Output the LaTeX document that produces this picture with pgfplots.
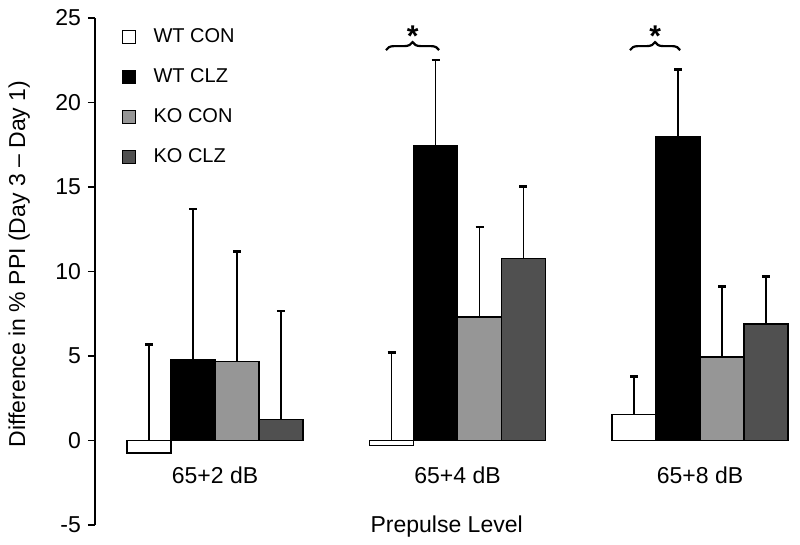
\documentclass[border=0pt]{standalone}
\usepackage{pgfplots}
\pgfplotsset{compat=1.18}
\usepackage{pgfplotstable}
\usepackage{fontspec}
\setmainfont{Liberation Sans}
\usetikzlibrary{decorations.pathreplacing}
\definecolor{kocon}{RGB}{150,150,150}
\definecolor{koclz}{RGB}{80,80,80}
\newcommand\mainsz{\fontsize{11.5}{13.8}\selectfont}

% x = group index + offset, y = mean, err = upper error
\pgfplotstableread{
x y err
-0.272 -0.75 6.42
0.728 -0.30 5.50
1.728 1.54 2.26
}\wtcon
\pgfplotstableread{
x y err
-0.0907 4.79 8.91
0.9093 17.45 5.07
1.9093 17.95 3.98
}\wtclz
\pgfplotstableread{
x y err
0.0907 4.67 6.50
1.0907 7.31 5.32
2.0907 4.95 4.17
}\kocon
\pgfplotstableread{
x y err
0.272 1.24 6.42
1.272 10.78 4.27
2.272 6.91 2.78
}\koclz

\begin{document}
\begin{tikzpicture}
\path[use as bounding box] (-47.5pt,-10pt) rectangle (352.5pt,262.5pt);
\begin{axis}[
  at={(0,0)}, anchor=south west,
  scale only axis, width=347.5pt, height=253.5pt,
  xmin=-0.495, xmax=2.371, ymin=-5, ymax=25,
  clip=false,
  axis x line=bottom, axis y line=left,
  axis line style={-, line width=0.6pt, black},
  x axis line style={draw=none},
  ytick={-5,0,5,10,15,20,25},
  xtick={0,1,2},
  xticklabels={65+2 dB,65+4 dB,65+8 dB},
  tick align=outside,
  major tick length=3.5pt,
  ytick style={line width=0.6pt, black},
  xtick style={draw=none},
  /pgf/number format/assume math mode=true,
  ticklabel style={font=\mainsz},
  xticklabel style={yshift=36.3pt},
  xlabel={Prepulse Level},
  ylabel={Difference in \% PPI (Day 3 – Day 1)},
  label style={font=\mainsz},
  xlabel style={at={(axis description cs:0.506,-0.004)}, anchor=center},
  ylabel style={at={(axis description cs:-0.109,0.515)}, anchor=center},
  legend cell align=left,
  legend style={at={(axis description cs:0.0377,0.9876)}, anchor=north west,
    draw=none, fill=none, inner sep=0pt, row sep=7.5pt, column sep=7pt,
    font=\fontsize{10}{12}\selectfont},
  legend image code/.code={\draw[#1, line width=0.5pt] (0pt,-3.25pt) rectangle (6.5pt,3.25pt);},
  error bars/error bar style={draw=black, line width=0.75pt},
  error bars/error mark options={draw=black, line width=1.4pt, mark size=2pt, rotate=0},
]
% error bars drawn first, so that bars cover their lower parts
\addplot[draw=none, mark=none, forget plot, error bars/.cd, y dir=plus, y explicit, error mark=|]
  table[x=x, y=y, y error=err] {\wtcon};
\addplot[draw=none, mark=none, forget plot, error bars/.cd, y dir=plus, y explicit, error mark=|]
  table[x=x, y=y, y error=err] {\wtclz};
\addplot[draw=none, mark=none, forget plot, error bars/.cd, y dir=plus, y explicit, error mark=|]
  table[x=x, y=y, y error=err] {\kocon};
\addplot[draw=none, mark=none, forget plot, error bars/.cd, y dir=plus, y explicit, error mark=|]
  table[x=x, y=y, y error=err] {\koclz};
% bars
\addplot[ybar, mark=none, bar width=0.1814, bar shift=0pt, fill=white, draw=black, line width=0.8pt]
  table[x=x, y=y] {\wtcon};
\addplot[ybar, mark=none, bar width=0.1814, bar shift=0pt, fill=black, draw=black, line width=0.8pt]
  table[x=x, y=y] {\wtclz};
\addplot[ybar, mark=none, bar width=0.1814, bar shift=0pt, fill=kocon, draw=black, line width=0.8pt]
  table[x=x, y=y] {\kocon};
\addplot[ybar, mark=none, bar width=0.1814, bar shift=0pt, fill=koclz, draw=black, line width=0.8pt]
  table[x=x, y=y] {\koclz};
\legend{WT CON, WT CLZ, KO CON, KO CLZ}
% significance braces
\draw[decorate, decoration={brace, amplitude=4pt}, line width=1.1pt] (axis cs:0.705,23.1) -- (axis cs:0.924,23.1);
\node[font=\fontsize{15}{16}\selectfont\bfseries] at (axis cs:0.815,23.9) {*};
\draw[decorate, decoration={brace, amplitude=4pt}, line width=1.1pt] (axis cs:1.711,23.1) -- (axis cs:1.918,23.1);
\node[font=\fontsize{15}{16}\selectfont\bfseries] at (axis cs:1.815,23.9) {*};
\end{axis}
\end{tikzpicture}
\end{document}
